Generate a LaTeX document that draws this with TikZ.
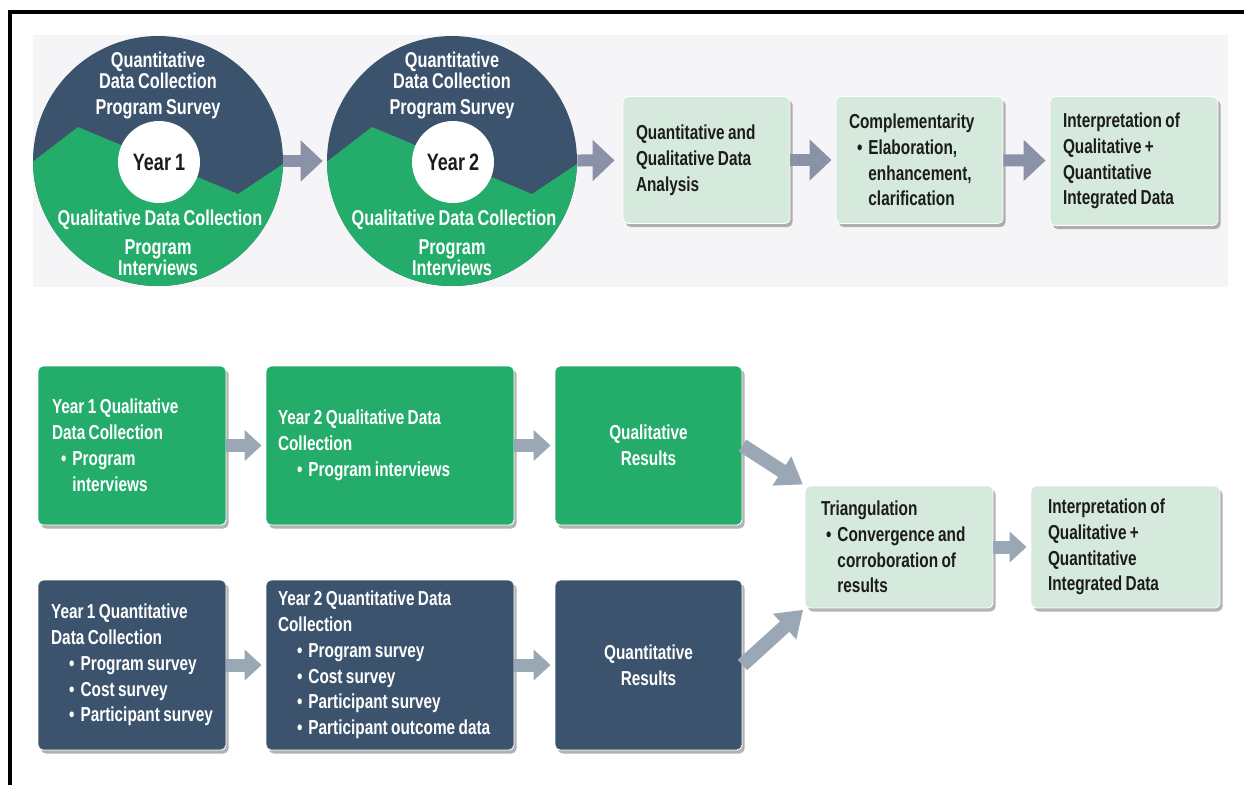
\documentclass[tikz,border=0pt]{standalone}
\usepackage{fontspec}
\setmainfont{Liberation Sans}[FakeStretch=0.76, WordSpace=0.8]
\usetikzlibrary{arrows.meta, shadows}
\definecolor{qblue}{HTML}{3C536D}
\definecolor{qgreen}{HTML}{24AD6A}
\definecolor{pale}{HTML}{D5E9DC}
\definecolor{panel}{HTML}{F5F5F7}
\definecolor{arrtop}{HTML}{8B92A7}
\definecolor{arrbot}{HTML}{9AA7B4}
\definecolor{ink}{HTML}{1C1C1C}
\newcommand{\bul}{\textbullet\hspace{0.3em}}
\begin{document}
\begin{tikzpicture}[x=0.02cm, y=-0.02cm, font=\bfseries\fontsize{11.5}{14.7}\selectfont,
          box/.style={draw=white, line width=0.5pt, rounded corners=0.1cm, inner xsep=0.26cm, inner ysep=0pt, align=flush left,
            drop shadow={shadow xshift=1.5pt, shadow yshift=-2pt, fill=black!50, opacity=0.6}},
          pbox/.style={box, fill=pale, text=ink}, gbox/.style={box, fill=qgreen, text=white}, bbox/.style={box, fill=qblue, text=white},
          wtxt/.style={text=white, align=center, inner sep=0pt, font=\bfseries\fontsize{12.2}{11.9}\selectfont},
          hub/.style={circle, fill=white, minimum size=1.64cm, inner sep=0pt, text=ink, font=\bfseries\fontsize{13.5}{14}\selectfont},
          flowtop/.style={-{Triangle[length=0.44cm, width=0.8cm]}, line width=0.24cm, draw=arrtop, shorten >=0.08cm},
          flowbot/.style={-{Triangle[length=0.34cm, width=0.6cm]}, line width=0.26cm, draw=arrbot, shorten >=0.08cm},
          flowdia/.style={-{Triangle[length=0.5cm, width=0.66cm]}, line width=0.28cm, draw=arrbot, shorten >=0.04cm}]
        \useasboundingbox (0,0) rectangle (1244,785);
        \fill[panel] (33,35) rectangle (1228,287);
        \draw[line width=0.09cm] (1244,12) -- (10,12) -- (10,785);
        % year 1 wheel
        \node[circle, fill=qblue, minimum size=5cm, inner sep=0pt] (w1) at (158,161) {};
        \begin{scope}
          \clip (158,161) circle (125);
          \fill[qgreen] (22,170) -- (78,127) -- (238,194) -- (295,156) -- (295,300) -- (22,300) -- cycle;
        \end{scope}
        \node[hub] (y1) at (159,162) {Year 1};
        \node[wtxt] (q1) at (158,70.5) {Quantitative\\Data Collection};
        \node[wtxt] (s1) at (158,109) {Program Survey};
        \node[wtxt] (l1) at (160,220) {Qualitative Data Collection};
        \node[wtxt] (i1) at (158,257.5) {Program\\Interviews};
        % year 2 wheel
        \node[circle, fill=qblue, minimum size=5cm, inner sep=0pt] (w2) at (452,161) {};
        \begin{scope}
          \clip (452,161) circle (125);
          \fill[qgreen] (316,170) -- (372,127) -- (532,194) -- (589,156) -- (589,300) -- (316,300) -- cycle;
        \end{scope}
        \node[hub] (y2) at (453,162) {Year 2};
        \node[wtxt] (q2) at (452,70.5) {Quantitative\\Data Collection};
        \node[wtxt] (s2) at (452,109) {Program Survey};
        \node[wtxt] (l2) at (454,220) {Qualitative Data Collection};
        \node[wtxt] (i2) at (452,257.5) {Program\\Interviews};
        % top row
        \node[pbox, minimum width=3.34cm, minimum height=2.54cm, text width=2.82cm] (ana) at (706.5,160) {Quantitative and\\Qualitative Data\\Analysis};
        \node[pbox, minimum width=3.34cm, minimum height=2.54cm, text width=2.82cm] (comp) at (919.5,160) {Complementarity\\\hspace*{0.16cm}\bul Elaboration,\\\hspace*{0.16cm}\phantom{\bul}enhancement,\\\hspace*{0.16cm}\phantom{\bul}clarification};
        \node[pbox, minimum width=3.36cm, minimum height=2.58cm, text width=2.84cm] (intA) at (1134,161) {Interpretation of\\Qualitative +\\Quantitative\\Integrated Data};
        \draw[flowtop] (w1) -- (w2);
        \draw[flowtop, shorten >=0.16cm] (w2) -- (ana);
        \draw[flowtop] (ana) -- (comp);
        \draw[flowtop] (comp) -- (intA);
        % qualitative strand
        \node[gbox, inner xsep=0.28cm, minimum height=3.18cm, text width=3.2cm] (ql1) at (132,445.5) {Year 1 Qualitative\\Data Collection\\\hspace*{0.18cm}\bul Program\\\hspace*{0.18cm}\phantom{\bul}interviews};
        \node[gbox, inner xsep=0.24cm, minimum height=3.18cm, text width=4.48cm] (ql2) at (390,445.5) {Year 2 Qualitative Data\\Collection\\\hspace*{0.38cm}\bul Program interviews};
        \node[gbox, align=center, minimum width=3.74cm, minimum height=3.18cm] (qlr) at (648.5,445.5) {Qualitative\\Results};
        % quantitative strand
        \node[bbox, inner xsep=0.1cm, minimum width=3.76cm, minimum height=3.4cm] (qn1) at (132,665) {Year 1 Quantitative\\Data Collection\\\hspace*{0.36cm}\bul Program survey\\\hspace*{0.36cm}\bul Cost survey\\\hspace*{0.36cm}\bul Participant survey};
        \node[bbox, inner xsep=0.24cm, minimum height=3.4cm, text width=4.48cm] (qn2) at (390,665) {Year 2 Quantitative Data\\Collection\\\hspace*{0.38cm}\bul Program survey\\\hspace*{0.38cm}\bul Cost survey\\\hspace*{0.38cm}\bul Participant survey\\\hspace*{0.38cm}\bul Participant outcome data};
        \node[bbox, align=center, minimum width=3.74cm, minimum height=3.4cm] (qnr) at (648.5,665) {Quantitative\\Results};
        % merge
        \node[pbox, inner xsep=0.32cm, minimum height=2.44cm, text width=3.12cm] (tri) at (899,547) {Triangulation\\\hspace*{0.1cm}\bul Convergence and\\\hspace*{0.1cm}\phantom{\bul}corroboration of\\\hspace*{0.1cm}\phantom{\bul}results};
        \node[pbox, inner xsep=0.34cm, minimum height=2.44cm, text width=3.1cm] (intB) at (1125.5,547) {Interpretation of\\Qualitative +\\Quantitative\\Integrated Data};
        \draw[flowbot] (ql1) -- (ql2);
        \draw[flowbot] (ql2) -- (qlr);
        \draw[flowbot] (qn1) -- (qn2);
        \draw[flowbot] (qn2) -- (qnr);
        \draw[flowdia] (qlr.east) -- (tri.north west);
        \draw[flowdia] (qnr.east) -- (tri.south west);
        \draw[flowbot] (tri) -- (intB);
      \end{tikzpicture}
\end{document}
